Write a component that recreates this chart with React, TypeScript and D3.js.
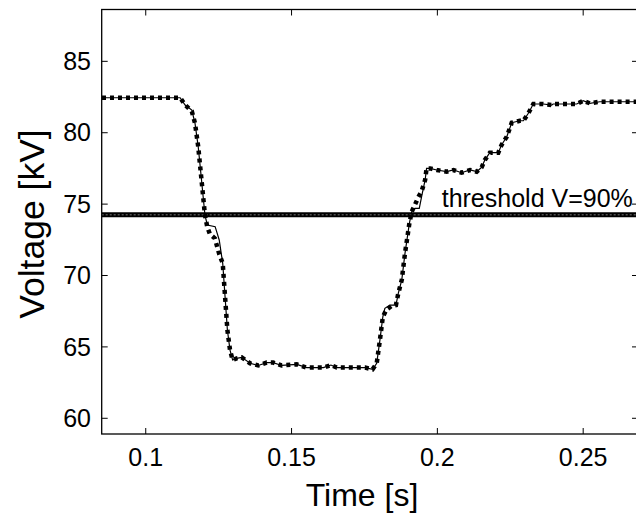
import React from "react";
import * as d3 from "d3";

const timeSolid = [0.085, 0.1118, 0.1135, 0.1158, 0.1169, 0.118, 0.1189, 0.1198, 0.1203, 0.1211, 0.1238, 0.1252, 0.1264, 0.1272, 0.128, 0.1289, 0.1298, 0.1312, 0.1329, 0.1358, 0.1386, 0.1415, 0.1437, 0.1466, 0.1518, 0.1552, 0.1609, 0.1635, 0.1655, 0.1752, 0.1778, 0.1792, 0.1803, 0.1813, 0.182, 0.1838, 0.1858, 0.1866, 0.1878, 0.1889, 0.1904, 0.1912, 0.1923, 0.1938, 0.1946, 0.1958, 0.1963, 0.1975, 0.1998, 0.2032, 0.2055, 0.2083, 0.2112, 0.2135, 0.2152, 0.2163, 0.218, 0.2209, 0.222, 0.2238, 0.2255, 0.2283, 0.2295, 0.2312, 0.2329, 0.2363, 0.2392, 0.2397, 0.2478, 0.25, 0.2523, 0.2557, 0.269];
const voltSolid = [82.45, 82.45, 81.94, 81.59, 80.66, 79.02, 77.16, 75.29, 74.24, 73.54, 73.42, 72.49, 70.85, 68.52, 66.18, 64.78, 64.08, 64.2, 64.27, 63.85, 63.7, 63.9, 63.9, 63.7, 63.78, 63.55, 63.55, 63.73, 63.55, 63.55, 63.43, 63.85, 65.48, 67.1, 67.7, 67.93, 67.93, 68.75, 69.7, 71.55, 73.65, 74.47, 74.7, 74.7, 75.52, 76.69, 77.5, 77.5, 77.39, 77.27, 77.39, 77.2, 77.39, 77.27, 77.58, 78.1, 78.6, 78.6, 79.14, 79.72, 80.7, 80.84, 80.84, 81.36, 82.01, 82.01, 81.94, 82.01, 82.01, 82.24, 82.06, 82.17, 82.17];

const timeDotted = [0.085, 0.1118, 0.1135, 0.1158, 0.1169, 0.118, 0.1189, 0.1198, 0.1203, 0.1211, 0.122, 0.1237, 0.1252, 0.1264, 0.1272, 0.128, 0.1289, 0.1298, 0.1312, 0.1329, 0.1358, 0.1386, 0.1415, 0.1437, 0.1466, 0.1518, 0.1552, 0.1609, 0.1635, 0.1655, 0.1752, 0.1778, 0.1792, 0.1803, 0.1813, 0.1825, 0.1842, 0.1858, 0.1866, 0.1878, 0.1889, 0.1904, 0.1912, 0.1922, 0.1935, 0.1946, 0.1958, 0.1963, 0.1975, 0.1998, 0.2032, 0.2055, 0.2083, 0.2112, 0.2135, 0.2152, 0.2163, 0.218, 0.2209, 0.222, 0.2238, 0.2255, 0.2283, 0.2295, 0.2312, 0.2329, 0.2363, 0.2392, 0.2397, 0.2478, 0.25, 0.2523, 0.2557, 0.269];
const voltDotted = [82.45, 82.45, 81.94, 81.5, 80.66, 79.02, 77.16, 75.29, 74.24, 73.4, 72.9, 72.6, 71.5, 70.85, 68.52, 66.18, 64.78, 64.08, 64.2, 64.27, 63.85, 63.7, 63.9, 63.9, 63.7, 63.78, 63.55, 63.55, 63.73, 63.55, 63.55, 63.43, 63.85, 65.48, 67.1, 67.6, 67.85, 67.93, 68.75, 69.7, 71.55, 73.65, 74.47, 74.9, 75.5, 75.9, 76.69, 77.5, 77.5, 77.39, 77.27, 77.39, 77.2, 77.39, 77.27, 77.58, 78.1, 78.6, 78.6, 79.14, 79.72, 80.7, 80.84, 80.84, 81.36, 82.01, 82.01, 81.94, 82.01, 82.01, 82.24, 82.06, 82.17, 82.17];

const thresholdVolt = 74.25;
const thresholdLabel = "threshold V=90%";
const xTicks = [0.1, 0.15, 0.2, 0.25];
const xTickLabels = ["0.1", "0.15", "0.2", "0.25"];
const yTicks = [60, 65, 70, 75, 80, 85];
const yTickLabels = ["60", "65", "70", "75", "80", "85"];
const xDomain = [0.0849, 0.2688];
const yDomain = [58.9, 88.63];

export default function App() {
  const left = 101.7, right = 638, top = 9.5, bottom = 434;
  const x = d3.scaleLinear().domain(xDomain).range([left, right]);
  const y = d3.scaleLinear().domain(yDomain).range([bottom, top]);
  const line = d3.line<[number, number]>().x(d => x(d[0])).y(d => y(d[1]));
  const solid = line(timeSolid.map((t, i) => [t, voltSolid[i]]));
  const dotted = line(timeDotted.map((t, i) => [t, voltDotted[i]]));
  const font = "'Liberation Sans', Arial, Helvetica, sans-serif";
  const tk = 6;
  return (
    <svg width={636} height={513} style={{ position: "absolute", left: 0, top: 0, background: "#fff" }} fontFamily={font}>
      <defs>
        <clipPath id="plotclip">
          <rect x={left} y={top} width={right - left} height={bottom - top} />
        </clipPath>
      </defs>
      <rect x={0} y={0} width={636} height={513} fill="#fff" />
      <g clipPath="url(#plotclip)">
        <line x1={left} x2={right} y1={y(thresholdVolt)} y2={y(thresholdVolt)} stroke="#000" strokeWidth={5} />
        <line x1={left} x2={right} y1={y(thresholdVolt)} y2={y(thresholdVolt)} stroke="#777" strokeWidth={1} strokeDasharray="2,2" />
        <path d={solid || ""} fill="none" stroke="#000" strokeWidth={1.2} />
        <path d={dotted || ""} fill="none" stroke="#000" strokeWidth={4.5} strokeDasharray="4,4" />
      </g>
      <text x={441.7} y={206.5} fontSize={25} fill="#000">{thresholdLabel}</text>
      <rect x={left} y={top} width={right - left} height={bottom - top} fill="none" stroke="#000" strokeWidth={1.3} />
      {yTicks.map((v, i) => (
        <g key={"y" + v}>
          <line x1={left} x2={left + tk} y1={y(v)} y2={y(v)} stroke="#000" strokeWidth={1} />
          <line x1={right} x2={right - tk} y1={y(v)} y2={y(v)} stroke="#000" strokeWidth={1} />
          <text x={91} y={y(v)} dy="0.35em" textAnchor="end" fontSize={25}>{yTickLabels[i]}</text>
        </g>
      ))}
      {xTicks.map((t, i) => (
        <g key={"x" + t}>
          <line x1={x(t)} x2={x(t)} y1={bottom} y2={bottom - tk} stroke="#000" strokeWidth={1} />
          <line x1={x(t)} x2={x(t)} y1={top} y2={top + tk} stroke="#000" strokeWidth={1} />
          <text x={x(t)} y={466} textAnchor="middle" fontSize={25}>{xTickLabels[i]}</text>
        </g>
      ))}
      <text x={362} y={506} textAnchor="middle" fontSize={32}>Time [s]</text>
      <text transform={`translate(44,224) rotate(-90)`} textAnchor="middle" fontSize={35.5}>Voltage [kV]</text>
    </svg>
  );
}
